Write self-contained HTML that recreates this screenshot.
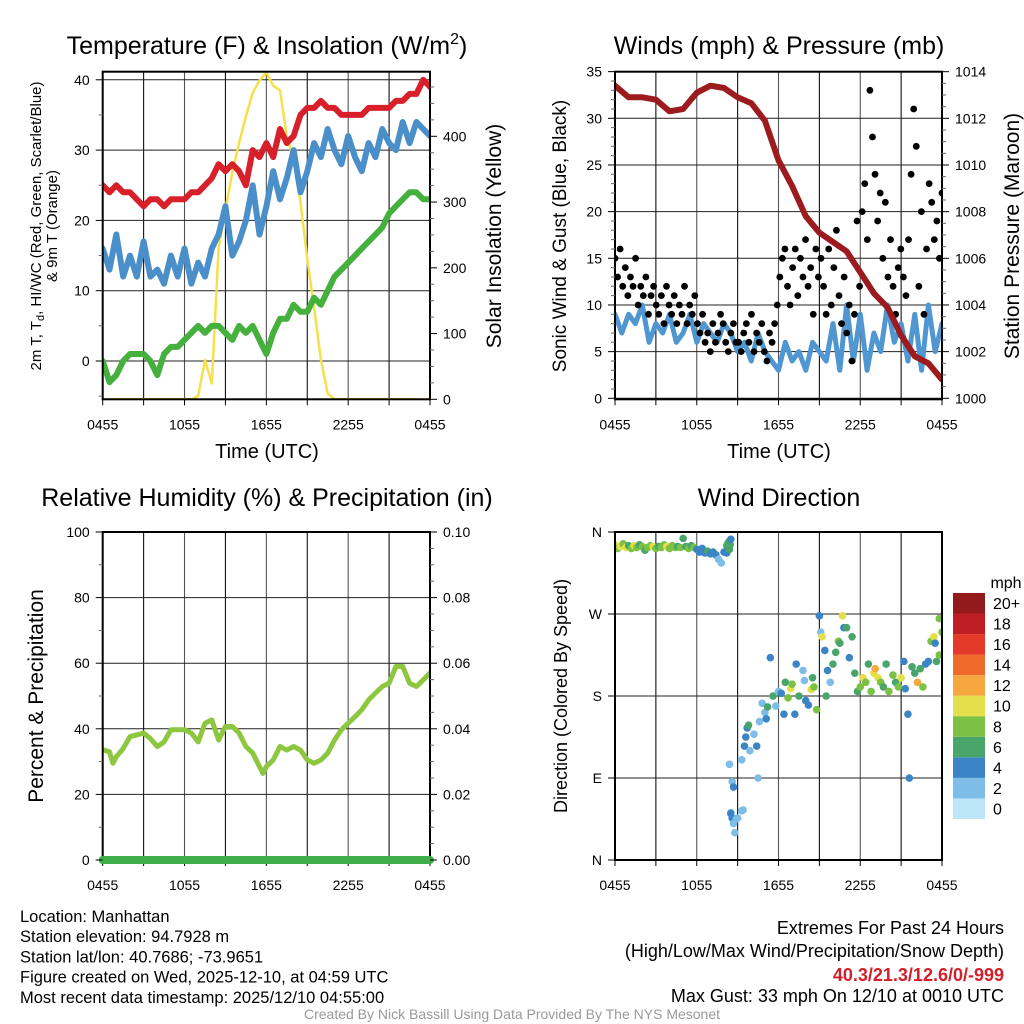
<!DOCTYPE html>
<html><head><meta charset="utf-8"><title>NYS Mesonet Manhattan</title>
<style>
html,body{margin:0;padding:0;background:#fff;}
svg{display:block;font-family:"Liberation Sans",Arial,sans-serif;}
</style></head>
<body>
<svg id="chart" width="1024" height="1024" viewBox="0 0 1024 1024" xmlns="http://www.w3.org/2000/svg">
<defs>
<clipPath id="c1"><rect x="102.7" y="71.7" width="327.3" height="327.6"/></clipPath>
<clipPath id="c2"><rect x="615" y="71.7" width="327" height="327.6"/></clipPath>
<clipPath id="c3"><rect x="102.7" y="532" width="327.3" height="328"/></clipPath>
<clipPath id="c4"><rect x="615" y="532" width="327" height="328"/></clipPath>
</defs>
</svg>
<script>
// ---- data ----
const xTickLabels = ["0455","1055","1655","2255","0455"];
const halfHourTimes = [0,0.5,1,1.5,2,2.5,3,3.5,4,4.5,5,5.5,6,6.5,7,7.5,8,8.5,9,9.5,10,10.5,11,11.5,12,12.5,13,13.5,14,14.5,15,15.5,16,16.5,17,17.5,18,18.5,19,19.5,20,20.5,21,21.5,22,22.5,23,23.5,24];
const hourTimes = [0,1,2,3,4,5,6,7,8,9,10,11,12,13,14,15,16,17,18,19,20,21,22,23,24];
const tempRed = [25,24,25,24,24,23,22,23,23,22,23,23,23,24,24,25,26,28,27,28,27,25,30,29,31,29,33,31,32,35,36,36,37,36,36,35,35,35,35,36,36,36,36,37,37,38,38,40,39];
const tempBlue = [16,13,18,12,15,12,17,12,13,11,15,12,16,11,14,12,16,18,22,15,17,20,25,18,22,27,23,26,30,24,27,31,29,33,30,28,32,29,27,31,29,33,31,30,34,31,34,33,32];
const tempGreen = [0,-3,-2,0,1,1,1,0,-2,1,2,2,3,4,5,4,5,5,4,3,5,4,5,3,1,4,6,6,8,7,7,9,8,10,12,13,14,15,16,17,18,19,21,22,23,24,24,23,23];
const solar = [0,0,0,0,0,0,0,0,0,0,0,0,0,0,5,60,24,230,288,345,390,430,466,485,497,477,470,400,365,300,213,140,60,9,0,0,0,0,0,0,0,0,0,0,0,0,0,0,0];
const tempTicks = [0,10,20,30,40];
const solarTicks = [0,100,200,300,400];
const pressure = [1013.4,1012.9,1012.9,1012.8,1012.3,1012.4,1013.1,1013.4,1013.3,1012.9,1012.65,1011.9,1010.2,1009.1,1007.8,1007.1,1006.7,1006.3,1005.4,1004.5,1003.9,1002.7,1001.8,1001.5,1000.8];
const windSpeed = [9,7,9,8,10,6,8,7,9,6,7,9,6,8,7,6,8,7,5,6,4,7,5,4,3,6,4,5,3,6,5,4,8,3,10,4,9,3,7,5,10,6,8,4,9,3,10,5,8];
const gusts = [15,13,16,12,14,11,13,12,15,10,12,11,13,9,11,12,
 10,9,11,8,12,10,9,11,8,10,9,12,8,10,9,11,
 8,7,9,6,7,5,8,6,7,9,8,6,5,7,8,6,
 6,5,7,8,6,9,5,7,6,8,5,4,7,6,8,10,
 13,15,16,12,10,14,16,11,15,13,17,12,14,9,16,13,
 15,12,9,16,10,14,18,11,8,13,7,10,4,9,19,12,
 20,23,17,33,28,24,19,22,15,21,13,17,12,9,14,16,
 13,11,17,24,31,27,12,20,9,16,23,21,17,19,15,22];
const windTicks = [0,5,10,15,20,25,30,35];
const pressTicks = [1000,1002,1004,1006,1008,1010,1012,1014];
const rhTimes = [0,0.5,0.75,1,1.5,2,3,3.5,4,4.5,5,6,6.5,7,7.5,8,8.5,9,9.5,10,10.5,11,11.75,12,12.5,13,13.5,14,14.5,15,15.5,16,16.5,17,17.5,18,18.5,19,19.5,20,20.5,21,21.5,22,22.5,23,23.5,24];
const rh = [33.6,33,29.5,31.5,34,37.6,38.7,37,34.6,36,39.7,39.7,38.7,36,41.7,42.7,36.6,40.7,40.7,38.7,34.6,32.6,26.4,28.5,30.5,34.6,33.5,34.6,33.5,30.5,29.5,30.5,32.6,36.6,39.7,41.7,43.7,45.8,48.8,50.9,52.9,53.9,59,59,53.9,52.9,54.9,57];
const precip = [0,0,0,0,0,0,0,0,0,0,0,0,0,0,0,0,0,0,0,0,0,0,0,0,0];
const rhTicks = [0,20,40,60,80,100];
const precipTicks = ["0.00","0.02","0.04","0.06","0.08","0.10"];
const dirT = [0,0.2,0.4,0.6,0.8,1.0,1.2,1.4,1.6,1.8,2.0,2.2,2.4,2.6,2.8,3.0,3.2,3.4,3.6,3.8,4.0,4.2,4.4,4.6,4.8,5.0,5.2,5.4,5.6,5.8,
 6.0,6.2,6.4,6.6,6.8,7.0,7.2,7.4,7.6,7.8,8.0,8.2,
 8.2,8.3,8.4,8.45,8.5,8.4,
 8.4,8.6,8.7,8.5,8.6,8.7,8.8,8.9,9.0,9.3,9.4,8.5,
 9.3,9.5,9.6,9.7,9.8,9.9,10.2,10.4,10.5,10.6,11.0,11.1,10.8,
 11.2,11.4,11.6,11.8,12.0,12.2,12.4,12.5,12.7,12.9,13.0,13.2,13.3,13.5,13.8,13.9,14.0,14.2,14.4,14.5,14.6,14.8,15.0,15.1,15.2,15.4,15.5,15.6,15.8,16.0,16.2,16.4,16.5,16.7,16.8,17.0,17.2,17.4,17.6,17.8,18.0,18.2,18.4,18.6,18.8,19.0,19.1,19.3,19.5,19.7,19.9,20.1,20.4,20.6,20.8,21.0,21.2,21.3,21.5,21.6,21.8,22.0,22.2,22.4,22.6,22.8,23.0,23.2,23.4,23.6,23.8,24.0,23.8,23.5];
const dirD = [346,342,344,347,343,345,342,345,343,346,344,340,343,345,344,342,344,343,346,344,342,345,343,344,343,353,344,342,345,343,
 341,338,342,337,339,336,338,335,330,326,338,337,
 345,348,350,346,352,341,
 105,86,80,52,46,40,30,45,46,54,55,51,
 110,125,135,145,148,120,138,125,90,152,162,155,172,
 168,222,180,169,185,183,160,195,178,188,193,160,215,180,208,197,175,170,187,200,190,165,268,250,245,230,180,208,195,215,228,240,238,268,255,255,222,245,205,185,190,200,195,215,185,205,210,200,195,190,215,185,203,195,190,200,218,188,160,90,212,205,195,210,190,215,218,240,245,218,225,250,265,238];
const dirS = [10,8,10,8,10,6,8,10,8,6,8,6,8,8,10,8,6,8,8,10,8,8,8,6,8,6,6,8,6,8,
 4,4,4,4,6,4,4,4,2,2,4,4,
 6,6,6,6,4,6,
 2,2,4,2,4,2,2,2,2,2,2,4,
 2,4,4,4,6,2,2,4,2,2,2,4,2,
 6,4,6,2,2,4,4,6,8,10,8,4,4,6,2,2,4,4,10,6,8,8,4,2,10,4,6,4,2,6,6,8,6,10,4,6,4,6,6,6,8,10,8,6,8,10,12,10,8,6,6,8,8,6,8,10,4,4,4,4,6,6,12,6,8,4,4,8,10,6,8,8,8,4];
const dirLabels = ["N","E","S","W","N"];
const dirTickVals = [0,90,180,270,360];
const speedBins = ["0","2","4","6","8","10","12","14","16","18","20+"];
const speedColors = ["#bde5f8","#7dbde8","#3b85c6","#4aa56b","#7bc143","#e4e04c","#f7a740","#ef6b2c","#e43a2a","#c01e27","#931a1c"];

// ---- helpers ----
const NS="http://www.w3.org/2000/svg";
const svg=document.getElementById('chart');
function mk(tag,attrs,parent){const e=document.createElementNS(NS,tag);for(const k in attrs)e.setAttribute(k,attrs[k]);(parent||svg).appendChild(e);return e;}
function txt(str,x,y,size,anchor,extra,parent){const e=mk('text',Object.assign({x:x,y:y,'font-size':size,'text-anchor':anchor||'middle',fill:'#000'},extra||{}),parent);e.textContent=str;return e;}

// scales
const xL=t=>102.7+t*13.638;
const xR=t=>615+t*13.625;
const yT=v=>361-v*7.03;
const yS=w=>399.3-w*0.6575;
const yW=v=>398.3-v*9.333;
const yP=p=>398.3-(p-1000)*23.33;
const yR=r=>860-r*3.28;
const yPr=p=>860-p*3280;
const yD=d=>860-d*0.9111;

function frame(x0,x1,y0,y1,name){
  const g=mk('g',{});
  
  
  for(let h=3;h<24;h+=3){
    const x=x0+(x1-x0)*h/24;
    const l=mk('line',{x1:x,x2:x,y1:y0,y2:y1,stroke:(h%6===0)?'#555':'#111','stroke-width':1.1},g);
    
    
  }
  for(let i=0;i<=8;i++){
    const x=x0+(x1-x0)*i/8;
    const tk=mk('line',{x1:x,x2:x,y1:y1,y2:y1+6,stroke:'#000','stroke-width':1},g);
    
    
  }
  xTickLabels.forEach((s,i)=>{
    const t=txt(s,x0+(x1-x0)*i/4,y1+30,14,'middle',{},g);
    
    
  });
  return g;
}
function border(x0,x1,y0,y1,name){
  const r=mk('rect',{x:x0,y:y0,width:x1-x0,height:y1-y0,fill:'none',stroke:'#000','stroke-width':2});
  
  
}
function hgrid(vals,yf,x0,x1,name){
  vals.forEach((v,i)=>{
    const y=yf(v);
    const gl=mk('line',{x1:x0,x2:x1,y1:y,y2:y,stroke:'#222','stroke-width':1});
    
    
  });
}
function yAxis(vals,yf,xa,dir,labels,name,minorVals){
  vals.forEach((v,i)=>{
    const y=yf(v);
    const tk=mk('line',{x1:xa,x2:xa+dir*7,y1:y,y2:y,stroke:'#000','stroke-width':1});
    
    
    const lb=txt(labels?labels[i]:String(v),xa+dir*13,y+5,14,dir<0?'end':'start');
    
    
  });
  (minorVals||[]).forEach(v=>{
    const y=yf(v);
    const tk=mk('line',{x1:xa,x2:xa+dir*4,y1:y,y2:y,stroke:'#666','stroke-width':1});
    
    
  });
}
function path(ts,vs,xf,yf,color,w,clip,name){
  let d='';ts.forEach((t,i)=>{d+=(i?'L':'M')+xf(t).toFixed(1)+','+yf(vs[i]).toFixed(1);});
  const p=mk('path',{d:d,fill:'none',stroke:color,'stroke-width':w,'stroke-linejoin':'round','stroke-linecap':'round','clip-path':'url(#'+clip+')'});
  
  
  return p;
}
function range(a,b,s){const r=[];for(let v=a;v<=b+1e-9;v+=s)r.push(+v.toFixed(4));return r;}

// ---- Panel 1 ----
let t;
t=txt('',267,54,25);t.innerHTML='Temperature (F) &amp; Insolation (W/m<tspan dy="-10" font-size="16">2</tspan><tspan dy="10">)</tspan>';


frame(102.7,430,71.7,399.3,'temperature');
hgrid(tempTicks,yT,102.7,430,'temperature');
path(halfHourTimes,solar,xL,yS,'#f7e04d',2.5,'c1','solar-insolation-line');
path(halfHourTimes,tempRed,xL,yT,'#d7202a',6,'c1','temperature-line');
path(halfHourTimes,tempBlue,xL,yT,'#4a8fc9',6,'c1','wind-chill-line');
path(halfHourTimes,tempGreen,xL,yT,'#45b03e',6,'c1','dewpoint-line');
border(102.7,430,71.7,399.3,'temperature');
yAxis(tempTicks,yT,102.7,-1,null,'temperature-y',[-5,5,15,25,35]);
yAxis(solarTicks,yS,430,1,null,'solar-y',range(25,475,25).filter(v=>v%100));
t=txt('',0,0,15,'middle',{transform:'translate(41,226) rotate(-90)'});
t.innerHTML='2m T, T<tspan dy="3" font-size="11">d</tspan><tspan dy="-3">, HI/WC (Red, Green, Scarlet/Blue)</tspan>';


t=txt('& 9m T (Orange)',0,0,15,'middle',{transform:'translate(57,226) rotate(-90)'});


t=txt('Solar Insolation (Yellow)',0,0,21,'middle',{transform:'translate(501,236) rotate(-90)'});


t=txt('Time (UTC)',267,458,20);



// ---- Panel 2 ----
t=txt('Winds (mph) & Pressure (mb)',779,54,25);


frame(615,942,71.7,399.3,'winds');
hgrid(windTicks,yW,615,942,'winds');
path(halfHourTimes,windSpeed,xR,yW,'#5097d2',5,'c2','sonic-wind-line');
const gg=mk('g',{'clip-path':'url(#c2)'});


gusts.forEach((v,i)=>{
  const tt=i*24/(gusts.length-1);
  const c=mk('circle',{cx:xR(tt),cy:yW(v),r:3.4,fill:'#000'},gg);
  
  
});
path(hourTimes,pressure,xR,yP,'#9b1b1e',6,'c2','pressure-line');
border(615,942,71.7,399.3,'winds');
yAxis(windTicks,yW,615,-1,null,'wind-y',range(1,34,1).filter(v=>v%5));
yAxis(pressTicks,yP,942,1,null,'pressure-y',range(1000.5,1013.5,0.5).filter(v=>v%2));
t=txt('Sonic Wind & Gust (Blue, Black)',0,0,19,'middle',{transform:'translate(566,236) rotate(-90)'});


t=txt('Station Pressure (Maroon)',0,0,21,'middle',{transform:'translate(1019,236) rotate(-90)'});


t=txt('Time (UTC)',779,458,20);



// ---- Panel 3 ----
t=txt('Relative Humidity (%) & Precipitation (in)',267,506,25);


frame(102.7,430,532,860,'humidity');
hgrid(rhTicks,yR,102.7,430,'humidity');
path(rhTimes,rh,xL,yR,'#8dc63f',5,'c3','relative-humidity-line');
border(102.7,430,532,860,'humidity');
path(hourTimes,precip,xL,yPr,'#3fae49',8,'c3','precipitation-line').setAttribute('clip-path','');
yAxis(rhTicks,yR,102.7,-1,null,'humidity-y',range(10,90,20));
yAxis(rhTicks,yR,430,1,precipTicks,'precip-y',range(5,95,5).filter(v=>v%20));
t=txt('Percent & Precipitation',0,0,21,'middle',{transform:'translate(43,696) rotate(-90)'});



// ---- Panel 4 ----
t=txt('Wind Direction',779,506,25);


frame(615,942,532,860,'direction');
hgrid(dirTickVals,yD,615,942,'direction');
const dg=mk('g',{'clip-path':'url(#c4)'});


dirT.forEach((tt,i)=>{
  const bin=Math.min(10,Math.floor(dirS[i]/2));
  const c=mk('circle',{cx:xR(tt),cy:yD(dirD[i]),r:3.8,fill:speedColors[bin]},dg);
  
  
});
border(615,942,532,860,'direction');
yAxis(dirTickVals,yD,615,-1,dirLabels,'direction-y',[]);
t=txt('Direction (Colored By Speed)',0,0,18,'middle',{transform:'translate(567,696) rotate(-90)'});


// colorbar
t=txt('mph',1006,588,16);


speedBins.forEach((lab,i)=>{
  const y=819-(i+1)*20.55;
  const r=mk('rect',{x:953,y:y,width:32,height:20.55,fill:speedColors[i]});
  
  
  const l=txt(lab,993,y+16,16,'start');
  
  
});

// ---- footer text ----
const info=["Location: Manhattan","Station elevation: 94.7928 m","Station lat/lon: 40.7686; -73.9651","Figure created on Wed, 2025-12-10, at 04:59 UTC","Most recent data timestamp: 2025/12/10 04:55:00"];
info.forEach((s,i)=>{
  const e=txt(s,20,922+i*20.2,16.5,'start');
  
  
});
t=txt('Extremes For Past 24 Hours',1004,934,18,'end');


t=txt('(High/Low/Max Wind/Precipitation/Snow Depth)',1004,957,18,'end');


t=txt('40.3/21.3/12.6/0/-999',1004,981,18,'end',{fill:'#d1202a','font-weight':'bold'});


t=txt('Max Gust: 33 mph On 12/10 at 0010 UTC',1004,1002,18,'end');


t=txt('Created By Nick Bassill Using Data Provided By The NYS Mesonet',512,1019,14,'middle',{fill:'#999'});


</script>
</body></html>
